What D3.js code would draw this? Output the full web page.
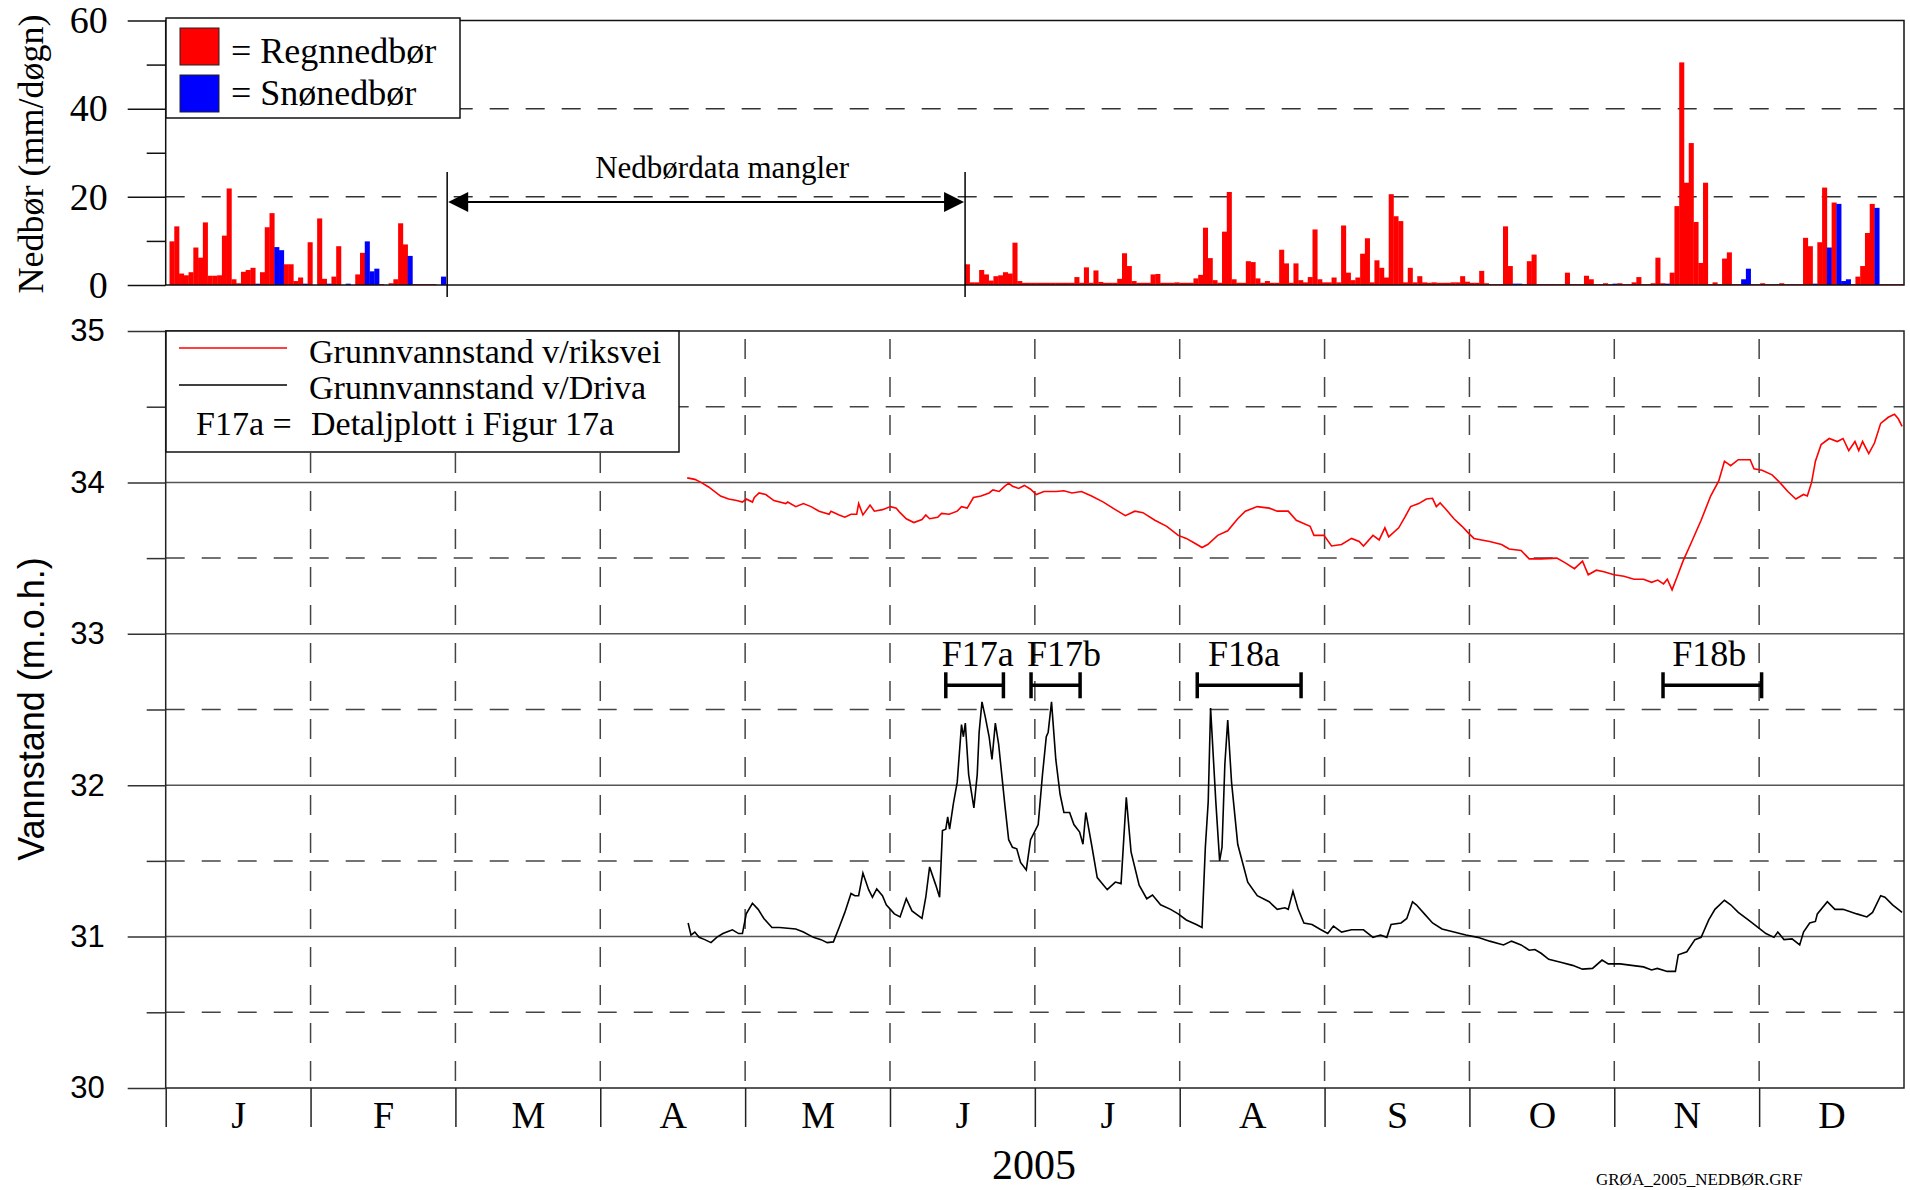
<!DOCTYPE html>
<html>
<head>
<meta charset="utf-8">
<script src="https://cdn.jsdelivr.net/npm/d3@7"></script>
<style>
body { margin: 0; background: #fff; }
</style>
</head>
<body>
<script>
// ---- data ----
var months = ["J", "F", "M", "A", "M", "J", "J", "A", "S", "O", "N", "D"];
var yearLabel = "2005";

// nedbør (mm/døgn), periode 1 starter dag 1
var ned1Start = 1;
var ned1 = [9.9, 13.3, 2.6, 2.2, 2.9, 8.5, 6.2, 14.2, 2.1, 2.1,
    2.2, 11.2, 21.9, 1.3, 0.4, 3.0, 3.4, 3.9, 0.3, 2.9,
    13.1, 16.3, 8.6, 7.9, 4.7, 4.7, 0.9, 1.7, 0.3, 9.7,
    0, 15.1, 1.4, 0.3, 1.9, 8.8, 0, 0.3, 0, 2.4,
    7.3, 9.9, 3.1, 3.7, 0.2, 0, 0.4, 1.3, 14.0, 9.2,
    6.6, 0.2, 0.2, 0.2, 0.2, 0.2, 0, 1.9];
// dager (dag i året) med snø
var sno1 = [19, 23, 24, 29, 34, 38, 42, 43, 44, 51, 58];

// periode 2 starter dag 168
var ned2Start = 168;
var ned2 = [4.7, 0.6, 0.6, 3.4, 2.4, 1.0, 2.0, 2.2, 2.9, 2.6,
    9.6, 0.9, 0.5, 0.5, 0.5, 0.5, 0.5, 0.5, 0.5, 0.5,
    0.5, 0.5, 0.5, 1.8, 0.5, 4.0, 0.5, 3.3, 0.7, 0.5,
    0.5, 0.5, 1.4, 7.2, 4.3, 0.9, 0.5, 0.5, 0.5, 2.4,
    2.5, 0.5, 0.5, 0.5, 0.6, 0.5, 0.5, 0.5, 1.5, 2.3,
    13.0, 6.1, 1.1, 0.5, 12.1, 21.1, 1.3, 0.5, 0.5, 5.4,
    5.2, 1.5, 0.5, 0.9, 0.5, 0.5, 8.0, 4.9, 0.5, 4.9,
    1.1, 0.6, 1.8, 12.6, 1.3, 0.6, 0.6, 1.7, 0.6, 13.5,
    2.8, 1.1, 1.7, 7.1, 10.6, 0.6, 5.6, 3.9, 1.7, 20.6,
    15.6, 14.5, 0.6, 3.9, 0.6, 2.0, 0.6, 0.5, 0.6, 0.5,
    0.5, 0.5, 0.6, 0.6, 2.0, 0.75, 0.5, 0.5, 3.2, 0.4,
    0.2, 0.2, 0.2, 13.3, 4.3, 0.3, 0.3, 0.2, 5.4, 6.9,
    0.2, 0.2, 0.2, 0.2, 0.2, 0.2, 2.8, 0.2, 0.2, 0.2,
    2.1, 1.3, 0.2, 0.2, 0.4, 0.2, 0.3, 0.4, 0.2, 0.2,
    0.6, 1.8, 0.2, 0.2, 0.4, 6.2, 0.4, 0.3, 2.8, 17.9,
    50.5, 23.2, 32.2, 14.3, 5.0, 23.2, 0.2, 0.6, 0.2, 6.0,
    7.4, 0.2, 0.2, 1.3, 3.7, 0.2, 0.2, 0.4, 0.2, 0.2,
    0.2, 0.4, 0.2, 0.2, 0.2, 0.2, 10.7, 8.8, 0.3, 9.7,
    22.1, 8.5, 18.7, 18.4, 0.9, 1.3, 0.2, 1.9, 4.3, 11.8,
    18.4, 17.5, 0.2, 0.2, 0.2, 0.2, 0.2];
var sno2 = [283, 284, 304, 315, 331, 332, 346, 349, 351, 352, 353, 359];

// periode uten nedbørdata (dag i året)
var manglerFra = 59.1, manglerTil = 167.85;

// grunnvannstand v/riksvei (dag, m.o.h.)
var rvDag = [109.5, 111.1, 112.4, 114.0, 116.5, 118.2, 119.9, 121.1, 121.9, 123.2,
    123.6, 124.6, 126.0, 127.7, 130.2, 130.6, 132.3, 133.9, 135.5, 137.2,
    139.3, 139.7, 141.4, 142.6, 143.9, 145.1, 145.5, 146.4, 147.9, 148.8,
    150.5, 152.2, 153.4, 154.2, 155.5, 157.1, 158.8, 159.6, 160.4, 162.1,
    162.9, 164.5, 166.2, 167.1, 168.3, 169.6, 171.2, 172.9, 173.7, 175.0,
    176.2, 177.0, 177.8, 179.1, 180.3, 181.6, 182.8, 184.4, 187.0, 188.6,
    190.3, 192.3, 194.4, 196.9, 199.4, 201.5, 203.5, 205.2, 207.7, 210.2,
    212.6, 214.3, 216.0, 217.6, 218.8, 220.9, 223.0, 225.1, 226.7, 229.2,
    231.7, 233.4, 235.7, 237.4, 240.3, 241.1, 243.2, 244.8, 246.9, 249.0,
    250.6, 251.5, 253.5, 254.8, 256.0, 256.8, 258.9, 260.2, 261.4, 263.1,
    264.7, 266.0, 266.8, 267.6, 268.9, 270.5, 272.2, 273.4, 274.7, 276.3,
    278.0, 280.5, 282.1, 284.6, 286.3, 288.8, 292.1, 293.8, 295.8, 297.5,
    298.7, 300.4, 302.0, 304.1, 306.2, 308.3, 310.3, 312.0, 313.3, 314.5,
    315.3, 316.3, 317.4, 318.6, 320.3, 322.4, 324.4, 326.1, 327.3, 328.6,
    330.2, 332.7, 333.5, 335.2, 337.3, 338.9, 340.6, 342.3, 343.9, 344.7,
    345.6, 346.4, 347.6, 349.3, 351.0, 352.2, 353.4, 354.7, 355.5, 356.3,
    357.6, 358.8, 360.1, 361.7, 363.0, 363.8, 364.6];
var rvNiva = [34.03, 34.02, 34.00, 33.97, 33.91, 33.89, 33.88, 33.87, 33.89, 33.87,
    33.90, 33.93, 33.92, 33.88, 33.86, 33.87, 33.84, 33.86, 33.84, 33.81,
    33.79, 33.81, 33.785, 33.77, 33.79, 33.79, 33.86, 33.785, 33.85, 33.81,
    33.82, 33.84, 33.83, 33.80, 33.76, 33.735, 33.755, 33.785, 33.76, 33.77,
    33.795, 33.79, 33.81, 33.84, 33.83, 33.90, 33.91, 33.93, 33.95, 33.94,
    33.975, 33.995, 33.975, 33.96, 33.98, 33.955, 33.92, 33.94, 33.94, 33.945,
    33.93, 33.94, 33.91, 33.87, 33.82, 33.78, 33.81, 33.80, 33.75, 33.71,
    33.65, 33.63, 33.60, 33.57, 33.59, 33.65, 33.68, 33.76, 33.81, 33.84,
    33.83, 33.81, 33.81, 33.75, 33.71, 33.65, 33.65, 33.58, 33.59, 33.63,
    33.61, 33.58, 33.65, 33.62, 33.70, 33.64, 33.70, 33.77, 33.84, 33.86,
    33.89, 33.895, 33.84, 33.865, 33.82, 33.76, 33.71, 33.67, 33.63, 33.62,
    33.61, 33.59, 33.56, 33.55, 33.495, 33.495, 33.50, 33.47, 33.43, 33.48,
    33.39, 33.42, 33.41, 33.39, 33.38, 33.36, 33.36, 33.34, 33.355, 33.33,
    33.36, 33.29, 33.38, 33.48, 33.60, 33.75, 33.91, 34.01, 34.14, 34.11,
    34.15, 34.15, 34.09, 34.08, 34.05, 34.00, 33.94, 33.89, 33.92, 33.91,
    34.00, 34.14, 34.25, 34.29, 34.27, 34.29, 34.21, 34.27, 34.21, 34.27,
    34.19, 34.26, 34.39, 34.43, 34.45, 34.42, 34.37];

// grunnvannstand v/Driva (dag, m.o.h.)
var drDag = [109.7, 110.3, 111.1, 112.0, 113.2, 114.5, 115.7, 117.0, 118.2, 119.0,
    120.3, 121.1, 121.9, 123.2, 124.4, 125.6, 127.3, 128.9, 132.3, 133.9,
    136.0, 137.6, 138.9, 140.2, 141.4, 142.6, 143.9, 144.7, 145.5, 146.4,
    147.6, 148.4, 149.3, 150.5, 151.3, 153.0, 154.2, 155.5, 156.7, 158.8,
    159.6, 160.4, 161.7, 162.5, 163.1, 163.8, 164.2, 164.6, 165.4, 166.2,
    167.1, 167.5, 167.9, 168.6, 169.7, 170.4, 170.8, 171.4, 172.1, 172.9,
    173.5, 174.2, 174.9, 176.2, 177.0, 177.8, 178.7, 179.5, 180.7, 181.6,
    183.2, 184.1, 184.9, 185.3, 186.0, 186.9, 187.8, 188.6, 189.8, 190.7,
    191.9, 192.6, 193.2, 194.4, 195.6, 197.7, 199.4, 200.6, 201.7, 202.7,
    204.4, 206.0, 207.2, 208.9, 211.0, 212.6, 214.3, 216.4, 217.6, 218.3,
    218.9, 219.4, 220.5, 221.3, 221.8, 222.4, 223.0, 223.8, 225.1, 227.2,
    229.2, 231.7, 233.4, 235.0, 235.7, 236.7, 237.8, 239.0, 240.7, 242.3,
    244.0, 245.2, 246.9, 249.0, 251.5, 253.5, 255.1, 256.4, 257.3, 259.4,
    260.6, 261.8, 262.6, 264.3, 266.0, 268.0, 270.5, 273.0, 275.5, 278.0,
    280.9, 282.6, 284.6, 286.3, 287.5, 288.8, 290.4, 292.9, 295.4, 297.5,
    299.6, 301.6, 302.9, 305.4, 307.8, 310.3, 312.0, 313.2, 315.3, 317.0,
    317.6, 319.4, 321.1, 322.4, 324.0, 325.3, 327.3, 328.6, 330.2, 332.3,
    334.4, 336.0, 337.7, 338.5, 339.8, 341.5, 343.1, 343.9, 345.2, 346.4,
    346.8, 348.9, 350.5, 352.2, 355.1, 357.2, 358.4, 360.1, 361.0, 362.6,
    364.6];
var drNiva = [31.09, 31.01, 31.03, 30.995, 30.98, 30.96, 30.995, 31.02, 31.035, 31.045,
    31.02, 31.02, 31.15, 31.22, 31.18, 31.12, 31.06, 31.06, 31.05, 31.03,
    30.995, 30.98, 30.96, 30.965, 31.06, 31.16, 31.285, 31.27, 31.27, 31.42,
    31.31, 31.26, 31.315, 31.27, 31.21, 31.15, 31.13, 31.25, 31.17, 31.12,
    31.26, 31.46, 31.34, 31.26, 31.70, 31.71, 31.79, 31.71, 31.88, 32.02,
    32.40, 32.32, 32.41, 32.07, 31.85, 32.07, 32.35, 32.55, 32.45, 32.32,
    32.17, 32.41, 32.27, 31.87, 31.64, 31.59, 31.58, 31.49, 31.44, 31.64,
    31.74, 32.07, 32.32, 32.35, 32.55, 32.17, 31.94, 31.82, 31.82, 31.74,
    31.69, 31.61, 31.82, 31.61, 31.39, 31.31, 31.36, 31.35, 31.92, 31.56,
    31.34, 31.25, 31.275, 31.21, 31.18, 31.15, 31.11, 31.08, 31.06, 31.59,
    31.89, 32.51, 31.89, 31.50, 31.59, 32.14, 32.43, 32.02, 31.61, 31.36,
    31.27, 31.23, 31.18, 31.19, 31.18, 31.30, 31.18, 31.09, 31.08, 31.05,
    31.02, 31.07, 31.03, 31.045, 31.045, 30.995, 31.01, 30.995, 31.08, 31.09,
    31.12, 31.23, 31.21, 31.15, 31.09, 31.05, 31.03, 31.01, 30.995, 30.97,
    30.945, 30.97, 30.945, 30.91, 30.915, 30.89, 30.85, 30.83, 30.81, 30.785,
    30.79, 30.845, 30.82, 30.82, 30.81, 30.80, 30.78, 30.79, 30.77, 30.77,
    30.88, 30.90, 30.98, 30.995, 31.11, 31.18, 31.24, 31.21, 31.16, 31.11,
    31.06, 31.02, 30.995, 31.03, 30.98, 30.985, 30.945, 31.03, 31.09, 31.10,
    31.15, 31.23, 31.18, 31.18, 31.15, 31.13, 31.16, 31.27, 31.26, 31.21,
    31.16];

// detaljplott-markeringer: navn, fra dag, til dag
var detaljNavn = ["F17a", "F17b", "F18a", "F18b"];
var detaljFra = [163.8, 181.7, 216.6, 314.4];
var detaljTil = [175.9, 192.0, 238.4, 335.1];
var detaljLabelDag = [170.5, 188.6, 226.4, 324.1];

// ---- setup ----
var serif = "'Liberation Serif', 'Times New Roman', serif";
var sans = "'Liberation Sans', Arial, sans-serif";
var W = 1910, H = 1190;
var left = 165.7, right = 1904;

var svg = d3.select("body")
    .append("svg")
    .attr("width", W)
    .attr("height", H)
    .style("display", "block");

var x = d3.scaleLinear().domain([0, 365]).range([left, right]);
var yP = d3.scaleLinear().domain([0, 60]).range([285, 20.5]);
var yG = d3.scaleLinear().domain([30, 35]).range([1088, 331]);
var monthEdges = d3.range(0, 13).map(function (i) { return i * 365 / 12; });

// ===== top panel: nedbør =====
var topG = svg.append("g");

// dashed gridlines
topG.selectAll(".pgrid")
    .data([20, 40])
    .enter().append("line")
    .attr("x1", left).attr("x2", right)
    .attr("y1", function (d) { return yP(d); })
    .attr("y2", function (d) { return yP(d); })
    .attr("stroke", "#333")
    .attr("stroke-width", 1.5)
    .attr("stroke-dasharray", "19,17");

// bars
function bars(start, values, snow) {
    var w = x(1) - x(0);
    var rows = values.map(function (v, i) {
        return { dag: start + i, mm: v, sno: snow.indexOf(start + i) >= 0 };
    });
    topG.append("g").selectAll("rect")
        .data(rows)
        .enter().append("rect")
        .attr("x", function (d) { return x(d.dag - 0.2); })
        .attr("width", w + 0.3)
        .attr("y", function (d) { return yP(d.mm); })
        .attr("height", function (d) { return yP(0) - yP(d.mm); })
        .attr("fill", function (d) { return d.sno ? "#0000ff" : "#ff0000"; });
}
bars(ned1Start, ned1, sno1);
bars(ned2Start, ned2, sno2);

// frame
topG.append("rect")
    .attr("x", left).attr("y", yP(60))
    .attr("width", right - left).attr("height", yP(0) - yP(60))
    .attr("fill", "none").attr("stroke", "#111").attr("stroke-width", 1.5);

// y axis
var pMajor = topG.append("g")
    .attr("transform", "translate(" + left + ",0)")
    .call(d3.axisLeft(yP).tickValues([0, 20, 40, 60]).tickSize(38).tickPadding(20));
var pMinor = topG.append("g")
    .attr("transform", "translate(" + left + ",0)")
    .call(d3.axisLeft(yP).tickValues([10, 30, 50]).tickSize(19).tickFormat(""));
[pMajor, pMinor].forEach(function (g) {
    g.select(".domain").remove();
    g.selectAll("line").attr("stroke", "#111").attr("stroke-width", 1.5);
});
pMajor.selectAll("text")
    .attr("font-family", serif).attr("font-size", 38).attr("fill", "#000");

topG.append("text")
    .attr("transform", "translate(43," + 154 + ") rotate(-90)")
    .attr("text-anchor", "middle")
    .attr("font-family", serif).attr("font-size", 36)
    .text("Nedbør (mm/døgn)");

// missing data marker
topG.selectAll(".gap")
    .data([manglerFra, manglerTil])
    .enter().append("line")
    .attr("x1", function (d) { return x(d); })
    .attr("x2", function (d) { return x(d); })
    .attr("y1", 172).attr("y2", 297)
    .attr("stroke", "#000").attr("stroke-width", 1.5);
var ay = 202;
topG.append("line")
    .attr("x1", x(manglerFra) + 10).attr("x2", x(manglerTil) - 10)
    .attr("y1", ay).attr("y2", ay)
    .attr("stroke", "#000").attr("stroke-width", 2);
topG.append("path")
    .attr("d", "M" + (x(manglerFra) + 1) + "," + ay + "l20,-10l0,20z")
    .attr("fill", "#000");
topG.append("path")
    .attr("d", "M" + (x(manglerTil) - 1) + "," + ay + "l-20,-10l0,20z")
    .attr("fill", "#000");
topG.append("text")
    .attr("x", (x(manglerFra) + x(manglerTil)) / 2 + 16)
    .attr("y", 178)
    .attr("text-anchor", "middle")
    .attr("font-family", serif).attr("font-size", 31)
    .text("Nedbørdata mangler");

// legend
var lg1 = topG.append("g");
lg1.append("rect")
    .attr("x", 166).attr("y", 18).attr("width", 294).attr("height", 100)
    .attr("fill", "#fff").attr("stroke", "#111").attr("stroke-width", 1.5);
lg1.append("rect").attr("x", 180).attr("y", 28).attr("width", 39).attr("height", 37)
    .attr("fill", "#ff0000").attr("stroke", "#222").attr("stroke-width", 1);
lg1.append("rect").attr("x", 180).attr("y", 75).attr("width", 39).attr("height", 37)
    .attr("fill", "#0000ff").attr("stroke", "#222").attr("stroke-width", 1);
lg1.append("text").attr("x", 231).attr("y", 63)
    .attr("font-family", serif).attr("font-size", 36).text("= Regnnedbør");
lg1.append("text").attr("x", 231).attr("y", 105)
    .attr("font-family", serif).attr("font-size", 36).text("= Snønedbør");

// ===== bottom panel: grunnvannstand =====
var botG = svg.append("g");

botG.selectAll(".gsolid")
    .data([31, 32, 33, 34])
    .enter().append("line")
    .attr("x1", left).attr("x2", right)
    .attr("y1", function (d) { return yG(d); })
    .attr("y2", function (d) { return yG(d); })
    .attr("stroke", "#555").attr("stroke-width", 1.5);
botG.selectAll(".gdash")
    .data([30.5, 31.5, 32.5, 33.5, 34.5])
    .enter().append("line")
    .attr("x1", left).attr("x2", right)
    .attr("y1", function (d) { return yG(d); })
    .attr("y2", function (d) { return yG(d); })
    .attr("stroke", "#444").attr("stroke-width", 1.5)
    .attr("stroke-dasharray", "19,17");
botG.selectAll(".vdash")
    .data(monthEdges.slice(1, 12))
    .enter().append("line")
    .attr("x1", function (d) { return x(d); })
    .attr("x2", function (d) { return x(d); })
    .attr("y1", yG(35)).attr("y2", yG(30))
    .attr("stroke", "#444").attr("stroke-width", 1.5)
    .attr("stroke-dasharray", "20,18")
    .attr("stroke-dashoffset", -8);

// frame
botG.append("rect")
    .attr("x", left).attr("y", yG(35))
    .attr("width", right - left).attr("height", yG(30) - yG(35))
    .attr("fill", "none").attr("stroke", "#222").attr("stroke-width", 1.5);

// lines
var line = d3.line()
    .x(function (d) { return x(d[0]); })
    .y(function (d) { return yG(d[1]); });
botG.append("path")
    .datum(d3.zip(rvDag, rvNiva))
    .attr("fill", "none").attr("stroke", "#ff0000").attr("stroke-width", 1.6)
    .attr("d", line);
botG.append("path")
    .datum(d3.zip(drDag, drNiva))
    .attr("fill", "none").attr("stroke", "#000").attr("stroke-width", 1.6)
    .attr("d", line);

// y axis
var gMajor = botG.append("g")
    .attr("transform", "translate(" + left + ",0)")
    .call(d3.axisLeft(yG).tickValues([30, 31, 32, 33, 34, 35])
        .tickFormat(d3.format("d")).tickSize(38).tickPadding(23));
var gMinor = botG.append("g")
    .attr("transform", "translate(" + left + ",0)")
    .call(d3.axisLeft(yG).tickValues([30.5, 31.5, 32.5, 33.5, 34.5]).tickSize(19).tickFormat(""));
[gMajor, gMinor].forEach(function (g) {
    g.select(".domain").remove();
    g.selectAll("line").attr("stroke", "#333").attr("stroke-width", 1.5);
});
gMajor.selectAll("text")
    .attr("font-family", sans).attr("font-size", 31).attr("fill", "#000");

botG.append("text")
    .attr("transform", "translate(44," + 709 + ") rotate(-90)")
    .attr("text-anchor", "middle")
    .attr("font-family", sans).attr("font-size", 36)
    .text("Vannstand (m.o.h.)");

// x axis: month ticks below the panel
var xTicks = botG.append("g")
    .attr("transform", "translate(0," + yG(30) + ")")
    .call(d3.axisBottom(x).tickValues(monthEdges.slice(0, 12)).tickSize(39).tickFormat(""));
xTicks.select(".domain").remove();
xTicks.selectAll("line").attr("stroke", "#222").attr("stroke-width", 1.5);

var xLab = botG.append("g")
    .attr("transform", "translate(0," + yG(30) + ")")
    .call(d3.axisBottom(x)
        .tickValues(months.map(function (m, i) { return (i + 0.5) * 365 / 12; }))
        .tickSize(0).tickPadding(12)
        .tickFormat(function (d, i) { return months[i]; }));
xLab.select(".domain").remove();
xLab.selectAll("text")
    .attr("font-family", serif).attr("font-size", 38).attr("fill", "#000")
    .attr("dy", 0).attr("y", 40);

svg.append("text")
    .attr("x", 1034).attr("y", 1179)
    .attr("text-anchor", "middle")
    .attr("font-family", serif).attr("font-size", 42)
    .text(yearLabel);

// detail markers
var dy = yG(32.66);
detaljNavn.forEach(function (n, i) {
    var g = botG.append("g");
    g.append("line")
        .attr("x1", x(detaljFra[i])).attr("x2", x(detaljTil[i]))
        .attr("y1", dy).attr("y2", dy)
        .attr("stroke", "#000").attr("stroke-width", 3.5);
    [detaljFra[i], detaljTil[i]].forEach(function (d) {
        g.append("line")
            .attr("x1", x(d)).attr("x2", x(d))
            .attr("y1", dy - 13).attr("y2", dy + 13)
            .attr("stroke", "#000").attr("stroke-width", 3.5);
    });
    g.append("text")
        .attr("x", x(detaljLabelDag[i])).attr("y", yG(32.79))
        .attr("text-anchor", "middle")
        .attr("font-family", serif).attr("font-size", 36)
        .text(n);
});

// legend
var lg2 = botG.append("g");
lg2.append("rect")
    .attr("x", 166).attr("y", 331).attr("width", 513).attr("height", 121)
    .attr("fill", "#fff").attr("stroke", "#111").attr("stroke-width", 1.5);
lg2.append("line").attr("x1", 179).attr("x2", 287).attr("y1", 348).attr("y2", 348)
    .attr("stroke", "#ff0000").attr("stroke-width", 1.5);
lg2.append("line").attr("x1", 179).attr("x2", 287).attr("y1", 385).attr("y2", 385)
    .attr("stroke", "#000").attr("stroke-width", 1.5);
lg2.append("text").attr("x", 309).attr("y", 363)
    .attr("font-family", serif).attr("font-size", 34).text("Grunnvannstand v/riksvei");
lg2.append("text").attr("x", 309).attr("y", 399)
    .attr("font-family", serif).attr("font-size", 34).text("Grunnvannstand v/Driva");
lg2.append("text").attr("x", 196).attr("y", 435)
    .attr("font-family", serif).attr("font-size", 34).text("F17a =");
lg2.append("text").attr("x", 311).attr("y", 435)
    .attr("font-family", serif).attr("font-size", 34).text("Detaljplott i Figur 17a");

// file tag at the bottom edge
svg.append("text")
    .attr("x", 1596).attr("y", 1185)
    .attr("font-family", serif).attr("font-size", 17)
    .text("GRØA_2005_NEDBØR.GRF");
</script>
</body>
</html>
